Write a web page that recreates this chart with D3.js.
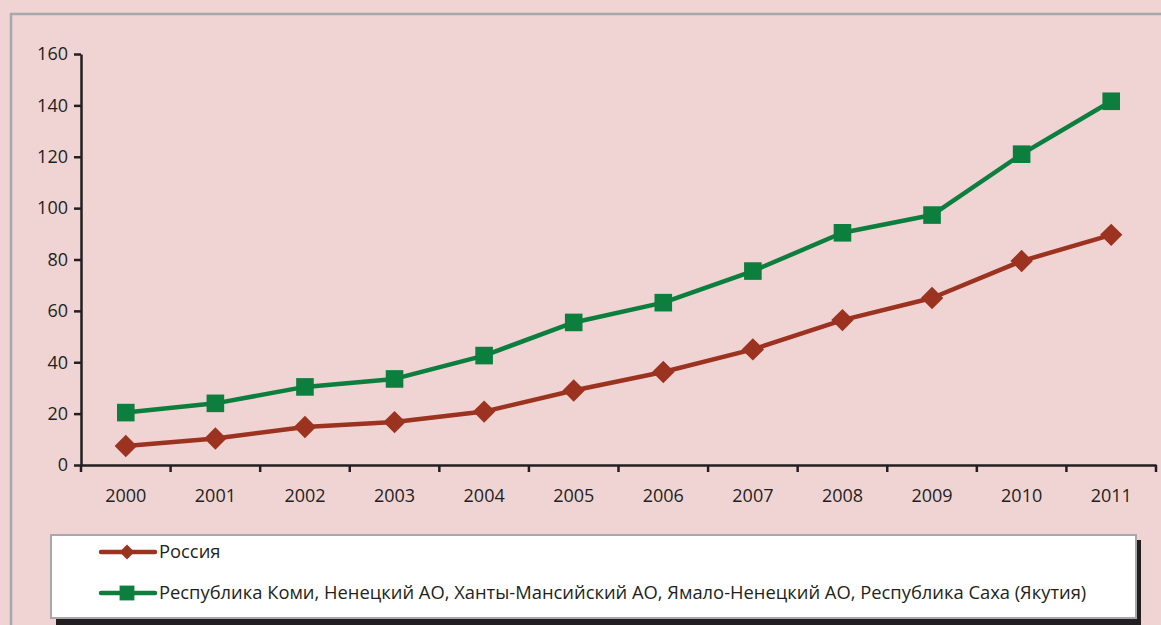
<!DOCTYPE html>
<html>
<head>
<meta charset="utf-8">
<script src="https://cdn.jsdelivr.net/npm/d3@7"></script>
<style>
  body { margin: 0; background: #f0d4d4; }
  svg { display: block; }
</style>
</head>
<body>
<script>
// data
var years = ["2000","2001","2002","2003","2004","2005","2006","2007","2008","2009","2010","2011"];
var russia = [7.4, 10.3, 14.8, 16.7, 20.8, 29.0, 36.2, 45.0, 56.4, 65.0, 79.4, 89.6];
var north = [20.4, 24.0, 30.4, 33.5, 42.6, 55.5, 63.2, 75.5, 90.4, 97.3, 121.0, 141.6];
var yTicks = [0, 20, 40, 60, 80, 100, 120, 140, 160];
var seriesNames = ["Россия", "Республика Коми, Ненецкий АО, Ханты-Мансийский АО, Ямало-Ненецкий АО, Республика Саха (Якутия)"];

var W = 1161, H = 625;
var FONT = "'Open Sans', 'Noto Sans', sans-serif";
var svg = d3.select("body").append("svg").attr("width", W).attr("height", H);

// outer frame
svg.append("rect").attr("x", 0).attr("y", 0).attr("width", W).attr("height", H).attr("fill", "#f0d4d4");
svg.append("rect").attr("x", 11).attr("y", 14).attr("width", W + 20).attr("height", H + 20)
  .attr("fill", "none").attr("stroke", "#a8a8ac").attr("stroke-width", 2.5);

var margin = {left: 81, top: 54, right: 1156, bottom: 465};

var x = d3.scaleBand().domain(years).range([margin.left, margin.right]);
var y = d3.scaleLinear().domain([0, 160]).range([margin.bottom, margin.top]);

// y axis
var yAxis = svg.append("g").attr("transform", "translate(" + margin.left + ",0)")
  .call(d3.axisLeft(y).tickValues(yTicks).tickSizeInner(7).tickSizeOuter(0).tickPadding(6));
// x axis
var xAxis = svg.append("g").attr("transform", "translate(0," + margin.bottom + ")")
  .call(d3.axisBottom(x).tickSize(0).tickPadding(24));
// category boundary ticks
svg.append("g").selectAll("line").data(d3.range(years.length + 1)).enter().append("line")
  .attr("x1", function(i) { return margin.left + i * x.step(); })
  .attr("x2", function(i) { return margin.left + i * x.step(); })
  .attr("y1", margin.bottom).attr("y2", margin.bottom + 7)
  .attr("stroke", "#231f20").attr("stroke-width", 2.5);

[yAxis, xAxis].forEach(function(g) {
  g.attr("font-family", FONT).attr("font-size", 18);
  g.select(".domain").attr("stroke", "#231f20").attr("stroke-width", 2.5);
  g.selectAll(".tick line").attr("stroke", "#231f20").attr("stroke-width", 2.5);
  g.selectAll("text").attr("fill", "#231f20");
});

var cx = function(d, i) { return x(years[i]) + x.bandwidth() / 2; };
var line = d3.line().x(cx).y(function(d) { return y(d); });

var redC = "#9b3320", greenC = "#0c7f3e";

svg.append("path").datum(north).attr("d", line)
  .attr("fill", "none").attr("stroke", greenC).attr("stroke-width", 4.5).attr("stroke-linejoin", "round");
svg.append("path").datum(russia).attr("d", line)
  .attr("fill", "none").attr("stroke", redC).attr("stroke-width", 4.5).attr("stroke-linejoin", "round");

var square = d3.symbol().type(d3.symbolSquare).size(310);
var diamond = d3.symbol().type(d3.symbolSquare).size(250);

svg.append("g").selectAll("path").data(north).enter().append("path")
  .attr("d", square)
  .attr("transform", function(d, i) { return "translate(" + cx(d, i) + "," + y(d) + ")"; })
  .attr("fill", greenC);
svg.append("g").selectAll("path").data(russia).enter().append("path")
  .attr("d", diamond)
  .attr("transform", function(d, i) { return "translate(" + cx(d, i) + "," + y(d) + ") rotate(45)"; })
  .attr("fill", redC);

// legend
var lg = svg.append("g");
lg.append("rect").attr("x", 56).attr("y", 540).attr("width", 1085).attr("height", 85).attr("fill", "#231f20");
lg.append("rect").attr("x", 51).attr("y", 535).attr("width", 1085).attr("height", 83)
  .attr("fill", "#ffffff").attr("stroke", "#a8a8ac").attr("stroke-width", 2);

var legItems = [
  {name: seriesNames[0], color: redC, sym: d3.symbol().type(d3.symbolSquare).size(110), rot: 45, y: 552},
  {name: seriesNames[1], color: greenC, sym: d3.symbol().type(d3.symbolSquare).size(220), rot: 0, y: 593}
];
legItems.forEach(function(it) {
  lg.append("line").attr("x1", 101).attr("x2", 155).attr("y1", it.y).attr("y2", it.y)
    .attr("stroke", it.color).attr("stroke-width", 4.5).attr("stroke-linecap", "round");
  lg.append("path").attr("d", it.sym).attr("transform", "translate(127," + it.y + ") rotate(" + it.rot + ")").attr("fill", it.color);
  lg.append("text").attr("x", 159).attr("y", it.y).attr("dy", "0.35em")
    .attr("font-family", FONT).attr("font-size", 18.35)
    .attr("fill", "#231f20").text(it.name);
});
</script>
</body>
</html>
